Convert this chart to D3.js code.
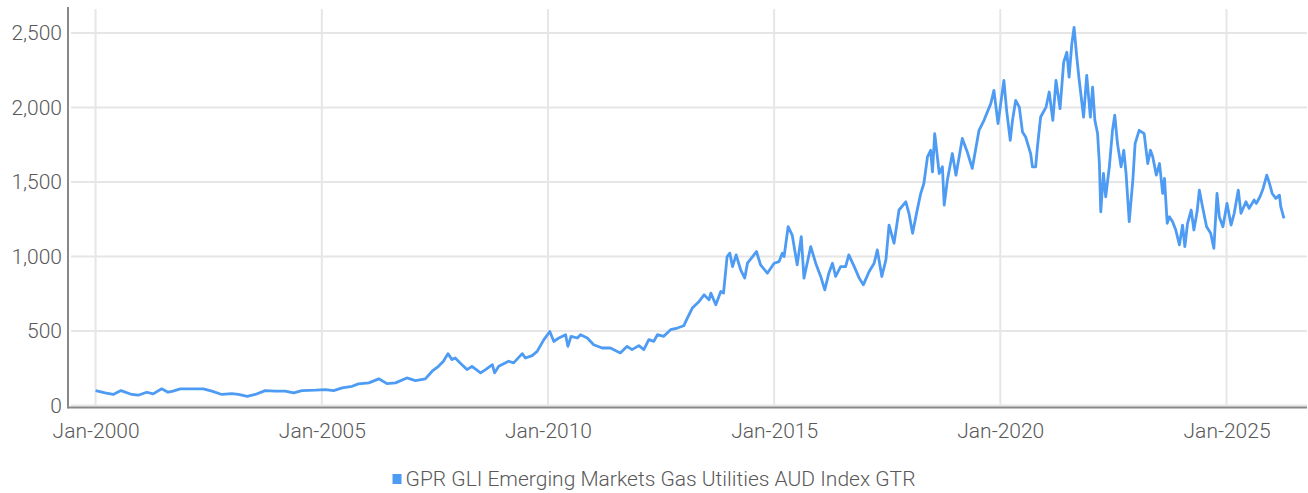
<!DOCTYPE html>
<meta charset="utf-8">
<script src="https://d3js.org/d3.v7.min.js"></script>
<style>
  body { margin: 0; background: #fff; }
  text { font-family: Roboto, sans-serif; font-weight: 300; fill: #595959; }
</style>
<div id="page"></div>
<script>

  // Series (decimal year, index level)
  var years = [
    2000.00, 2000.21, 2000.39, 2000.56, 2000.80, 2000.94, 2001.13, 2001.27, 2001.46, 2001.60,
    2001.71, 2001.87, 2002.13, 2002.38, 2002.57, 2002.79, 2003.01, 2003.16, 2003.35, 2003.53,
    2003.75, 2003.97, 2004.19, 2004.38, 2004.56, 2004.86, 2005.08, 2005.26, 2005.45, 2005.67,
    2005.81, 2006.04, 2006.26, 2006.44, 2006.63, 2006.88, 2007.07, 2007.29, 2007.44, 2007.58,
    2007.69, 2007.79, 2007.88, 2007.95, 2008.06, 2008.21, 2008.32, 2008.51, 2008.62, 2008.77,
    2008.82, 2008.91, 2009.13, 2009.24, 2009.43, 2009.50, 2009.65, 2009.76, 2009.91, 2010.04,
    2010.13, 2010.24, 2010.39, 2010.44, 2010.51, 2010.65, 2010.72, 2010.87, 2011.01, 2011.20,
    2011.38, 2011.60, 2011.75, 2011.86, 2012.01, 2012.12, 2012.23, 2012.34, 2012.42, 2012.56,
    2012.71, 2012.86, 2013.00, 2013.08, 2013.19, 2013.34, 2013.45, 2013.56, 2013.60, 2013.71,
    2013.82, 2013.88, 2013.96, 2014.02, 2014.08, 2014.16, 2014.26, 2014.35, 2014.41, 2014.61,
    2014.70, 2014.85, 2015.00, 2015.11, 2015.18, 2015.22, 2015.31, 2015.40, 2015.51, 2015.60,
    2015.66, 2015.81, 2015.92, 2016.03, 2016.12, 2016.21, 2016.29, 2016.36, 2016.47, 2016.58,
    2016.65, 2016.77, 2016.88, 2016.97, 2017.10, 2017.21, 2017.28, 2017.38, 2017.47, 2017.54,
    2017.65, 2017.76, 2017.91, 2017.98, 2018.06, 2018.17, 2018.24, 2018.31, 2018.39, 2018.46,
    2018.50, 2018.55, 2018.65, 2018.72, 2018.76, 2018.83, 2018.94, 2019.02, 2019.16, 2019.27,
    2019.38, 2019.53, 2019.64, 2019.79, 2019.86, 2019.95, 2020.08, 2020.14, 2020.22, 2020.27,
    2020.34, 2020.42, 2020.49, 2020.56, 2020.67, 2020.71, 2020.78, 2020.82, 2020.89, 2021.01,
    2021.08, 2021.16, 2021.23, 2021.32, 2021.40, 2021.47, 2021.52, 2021.58, 2021.63, 2021.69,
    2021.74, 2021.84, 2021.91, 2021.99, 2022.04, 2022.09, 2022.15, 2022.19, 2022.22, 2022.28,
    2022.33, 2022.41, 2022.48, 2022.53, 2022.59, 2022.67, 2022.73, 2022.78, 2022.85, 2022.93,
    2022.98, 2023.07, 2023.18, 2023.26, 2023.32, 2023.37, 2023.45, 2023.52, 2023.59, 2023.63,
    2023.69, 2023.74, 2023.81, 2023.88, 2023.96, 2024.03, 2024.08, 2024.14, 2024.22, 2024.28,
    2024.35, 2024.40, 2024.47, 2024.56, 2024.65, 2024.72, 2024.79, 2024.84, 2024.92, 2025.01,
    2025.10, 2025.17, 2025.26, 2025.32, 2025.43, 2025.50, 2025.61, 2025.66, 2025.74, 2025.81,
    2025.89, 2025.94, 2026.01, 2026.09, 2026.17, 2026.20, 2026.27
  ];
  var values = [
    100, 85, 74, 100, 74, 69, 89, 78, 112, 89,
    96, 112, 112, 112, 96, 74, 80, 74, 62, 74,
    100, 96, 96, 85, 100, 103, 107, 100, 118, 129,
    145, 152, 179, 147, 152, 185, 167, 179, 230, 263,
    297, 348, 308, 319, 286, 241, 263, 219, 241, 274,
    219, 263, 297, 286, 348, 319, 335, 363, 442, 497,
    430, 453, 475, 397, 464, 453, 475, 453, 408, 386,
    386, 353, 397, 375, 402, 375, 442, 430, 475, 464,
    509, 520, 535, 587, 654, 698, 743, 709, 754, 676,
    765, 754, 999, 1022, 932, 1011, 910, 855, 955, 1033,
    944, 888, 955, 966, 1022, 999, 1200, 1144, 944, 1133,
    855, 1066, 955, 866, 776, 888, 955, 866, 932, 932,
    1011, 932, 855, 810, 899, 955, 1044, 866, 977, 1211,
    1089, 1312, 1367, 1290, 1156, 1323, 1423, 1490, 1669, 1713,
    1568, 1825, 1557, 1602, 1345, 1513, 1691, 1546, 1792, 1702,
    1591, 1847, 1914, 2026, 2115, 1892, 2182, 1981, 1780, 1914,
    2048, 2003, 1836, 1802, 1691, 1602, 1602, 1735, 1936, 2003,
    2104, 1914, 2182, 1992, 2304, 2371, 2204, 2427, 2538, 2338,
    2193, 1936, 2215, 1936, 2137, 1914, 1825, 1624, 1300, 1557,
    1401, 1602, 1847, 1948, 1758, 1602, 1713, 1557, 1234, 1513,
    1758, 1847, 1825, 1624, 1713, 1669, 1546, 1624, 1423, 1524,
    1223, 1267, 1234, 1178, 1078, 1211, 1066, 1223, 1312, 1178,
    1300, 1446, 1334, 1200, 1156, 1055, 1423, 1267, 1200, 1356,
    1211, 1290, 1446, 1290, 1367, 1323, 1379, 1356, 1401, 1457,
    1546, 1501, 1423, 1390, 1412, 1334, 1256
  ];

  var xTickYears = [2000, 2005, 2010, 2015, 2020, 2025];
  var xTickLabels = ["Jan-2000", "Jan-2005", "Jan-2010", "Jan-2015", "Jan-2020", "Jan-2025"];
  var yTicks = [0, 500, 1000, 1500, 2000, 2500];
  var seriesName = "GPR GLI Emerging Markets Gas Utilities AUD Index GTR";

  function toDate(y) {
    var yr = Math.floor(y);
    var start = new Date(yr, 0, 1), end = new Date(yr + 1, 0, 1);
    return new Date(+start + (y - yr) * (end - start));
  }

  var data = years.map(function (y, i) { return { date: toDate(y), value: values[i] }; });

  var W = 1308, H = 493;
  var margin = { top: 8, right: 1, bottom: 87.5, left: 68 };

  var svg = d3.select("#page").append("svg")
    .attr("width", W).attr("height", H);

  var x = d3.scaleTime()
    .domain([toDate(1999.39), toDate(2026.78)])
    .range([margin.left, W - margin.right]);

  var y = d3.scaleLinear()
    .domain([0, 2500])
    .range([H - margin.bottom, 33]);

  // gridlines
  svg.append("g")
    .selectAll("line.h")
    .data(yTicks)
    .enter().append("line")
    .attr("x1", margin.left + 3).attr("x2", W - margin.right)
    .attr("y1", function (d) { return y(d); })
    .attr("y2", function (d) { return y(d); })
    .attr("stroke", "#e6e6e6").attr("stroke-width", 2);

  svg.append("g")
    .selectAll("line.v")
    .data(xTickYears)
    .enter().append("line")
    .attr("x1", function (d) { return x(toDate(d)); })
    .attr("x2", function (d) { return x(toDate(d)); })
    .attr("y1", 9).attr("y2", y(0))
    .attr("stroke", "#e6e6e6").attr("stroke-width", 2);

  // line
  svg.append("path")
    .datum(data)
    .attr("fill", "none")
    .attr("stroke", "#4e9bf4")
    .attr("stroke-width", 2.8)
    .attr("stroke-linejoin", "round")
    .attr("d", d3.line()
      .x(function (d) { return x(d.date); })
      .y(function (d) { return y(d.value); }));

  // axes
  var yAxis = svg.append("g")
    .attr("transform", "translate(" + margin.left + ",0)")
    .call(d3.axisLeft(y).tickValues(yTicks).tickFormat(d3.format(",")).tickSize(0).tickPadding(6));
  yAxis.select(".domain").remove();
  yAxis.selectAll("text").attr("font-size", 21).attr("font-family", null);

  svg.append("line")
    .attr("x1", margin.left).attr("x2", margin.left)
    .attr("y1", 7).attr("y2", y(0) + 3)
    .attr("stroke", "#888").attr("stroke-width", 2);

  var xAxis = svg.append("g")
    .attr("transform", "translate(0," + (y(0) + 2) + ")")
    .call(d3.axisBottom(x)
      .tickValues(xTickYears.map(toDate))
      .tickFormat(function (d, i) { return xTickLabels[i]; })
      .tickSize(0).tickPadding(16));
  xAxis.select(".domain").remove();
  xAxis.selectAll("text").attr("font-size", 21).attr("font-family", null);

  svg.append("line")
    .attr("x1", margin.left).attr("x2", W - margin.right)
    .attr("y1", y(0) + 2).attr("y2", y(0) + 2)
    .attr("stroke", "#888").attr("stroke-width", 2);

  // legend
  var legend = svg.append("g").attr("transform", "translate(" + W / 2 + ",479)");
  var lt = legend.append("text")
    .attr("font-size", 21)
    .attr("dy", "0.35em")
    .text(seriesName);
  var tw = lt.node().getComputedTextLength();
  var lx = -(tw + 13) / 2;
  lt.attr("x", lx + 13);
  legend.append("rect")
    .attr("x", lx).attr("y", -5)
    .attr("width", 9).attr("height", 10)
    .attr("fill", "#4e9bf4");

</script>
